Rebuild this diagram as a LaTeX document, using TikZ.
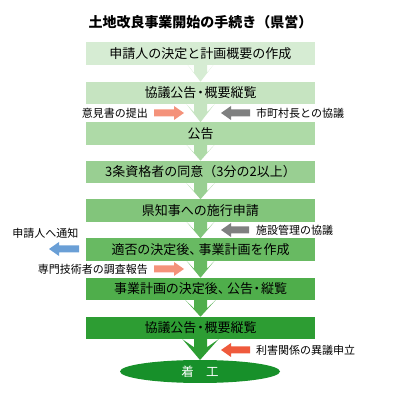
\documentclass[tikz,border=0pt]{standalone}
\usepackage{fontspec}
\setmainfont{Noto Sans CJK JP}
\usetikzlibrary{calc,shapes.geometric}
\definecolor{stepa}{HTML}{D6ECD3}
\definecolor{stepb}{HTML}{C6E4C1}
\definecolor{stepc}{HTML}{AEDAA7}
\definecolor{stepd}{HTML}{99CF92}
\definecolor{stepe}{HTML}{82C57B}
\definecolor{stepf}{HTML}{68BA62}
\definecolor{stepg}{HTML}{4FAE4B}
\definecolor{steph}{HTML}{2D9D33}
\definecolor{startgreen}{HTML}{17902A}
\definecolor{notesalmon}{HTML}{F4927A}
\definecolor{notegray}{HTML}{7F8080}
\definecolor{noteblue}{HTML}{6A9FD6}
\definecolor{notered}{HTML}{EF5A3C}

% down arrow between two steps: from, to, colour, head half width
\newcommand{\flowarr}[4]{\fill[#3] ($(#1.south)+(-6.5,0)$) -- ($(#1.south)+(-6.5,-8)$) -- ($(#1.south)+(-#4,0)$) -- (#2.north) -- ($(#1.south)+(#4,0)$) -- ($(#1.south)+(6.5,-8)$) -- ($(#1.south)+(6.5,0)$) -- cycle;}
% side arrow: from, to, colour, direction (1 right, -1 left)
\newcommand{\sidearr}[4]{\fill[#3] ($(#1)+(0,3.5)$) -- ($(#2)+({-10*#4},3.5)$) -- ($(#2)+({-10*#4},7)$) -- (#2) -- ($(#2)+({-10*#4},-7)$) -- ($(#2)+({-10*#4},-3.5)$) -- ($(#1)+(0,-3.5)$) -- cycle;}

\begin{document}
\begin{tikzpicture}[x=1pt,y=1pt,
 stepbox/.style={minimum width=229pt,minimum height=22.5pt,inner sep=0pt,outer sep=0pt,font=\fontsize{13pt}{13pt}\selectfont},
 note/.style={inner sep=0pt,font=\fontsize{11pt}{11pt}\selectfont}]
\useasboundingbox (0,0) rectangle (400,400);
\node[font=\fontsize{14pt}{14pt}\selectfont\bfseries] (title) at (200.5,378) {土地改良事業開始の手続き（県営）};
\node[stepbox,fill=stepa] (plan) at (200.5,346.5) {申請人の決定と計画概要の作成};
\node[stepbox,fill=stepb] (notice1) at (200.5,307) {協議公告\hspace{-2.5pt}・\hspace{-2.5pt}概要縦覧};
\node[stepbox,fill=stepc] (notice2) at (200.5,266.5) {公告};
\node[stepbox,fill=stepd] (consent) at (200.5,228) {3条資格者の同意（3分の2以上）};
\node[stepbox,fill=stepe] (apply) at (200.5,189.5) {県知事への施行申請};
\node[stepbox,fill=stepf] (decide) at (200.5,150.5) {適否の決定後、\hspace{-4pt}事業計画を作成};
\node[stepbox,fill=stepg] (publish) at (200.5,111) {事業計画の決定後、\hspace{-4pt}公告\hspace{-2.5pt}・\hspace{-2.5pt}縦覧};
\node[stepbox,fill=steph] (notice3) at (200.5,72) {協議公告\hspace{-2.5pt}・\hspace{-2.5pt}概要縦覧};
\node[ellipse,fill=startgreen,minimum width=160pt,minimum height=23pt,inner sep=0pt,outer sep=0pt,text=white,font=\fontsize{12.5pt}{12.5pt}\selectfont] (start) at (200,28.5) {着　工};
\flowarr{plan}{notice1}{stepa}{13}
\flowarr{notice1}{notice2}{stepb}{14}
\flowarr{notice2}{consent}{stepc}{14}
\flowarr{consent}{apply}{stepd}{14}
\flowarr{apply}{decide}{stepe}{14}
\flowarr{decide}{publish}{stepf}{14}
\flowarr{publish}{notice3}{stepg}{15}
\flowarr{notice3}{start}{steph}{18}
% notes beside the flow
\node[note,anchor=east] (opinion) at (148,287) {意見書の提出};
\coordinate (opinionbase) at (154,287);
\coordinate (opinionend) at (184,287);
\sidearr{opinionbase}{opinionend}{notesalmon}{1}
\node[note,anchor=west] (mayor) at (256,287) {市町村長との協議};
\coordinate (mayorbase) at (250,287);
\coordinate (mayorend) at (221,287);
\sidearr{mayorbase}{mayorend}{notegray}{-1}
\node[note,anchor=west] (facility) at (256,170) {施設管理の協議};
\coordinate (facilitybase) at (249,170);
\coordinate (facilityend) at (221,170);
\sidearr{facilitybase}{facilityend}{notegray}{-1}
\node[note] (inform) at (45.5,167) {申請人へ通知};
\coordinate (informbase) at (79,151);
\coordinate (informend) at (49,151);
\sidearr{informbase}{informend}{noteblue}{-1}
\node[note,anchor=east] (expert) at (148,131) {専門技術者の調査報告};
\coordinate (expertbase) at (154,131);
\coordinate (expertend) at (184,131);
\sidearr{expertbase}{expertend}{notesalmon}{1}
\node[note,anchor=west] (objection) at (256,50) {利害関係の異議申立};
\coordinate (objectionbase) at (250,50);
\coordinate (objectionend) at (221,50);
\sidearr{objectionbase}{objectionend}{notered}{-1}
\end{tikzpicture}
\end{document}
